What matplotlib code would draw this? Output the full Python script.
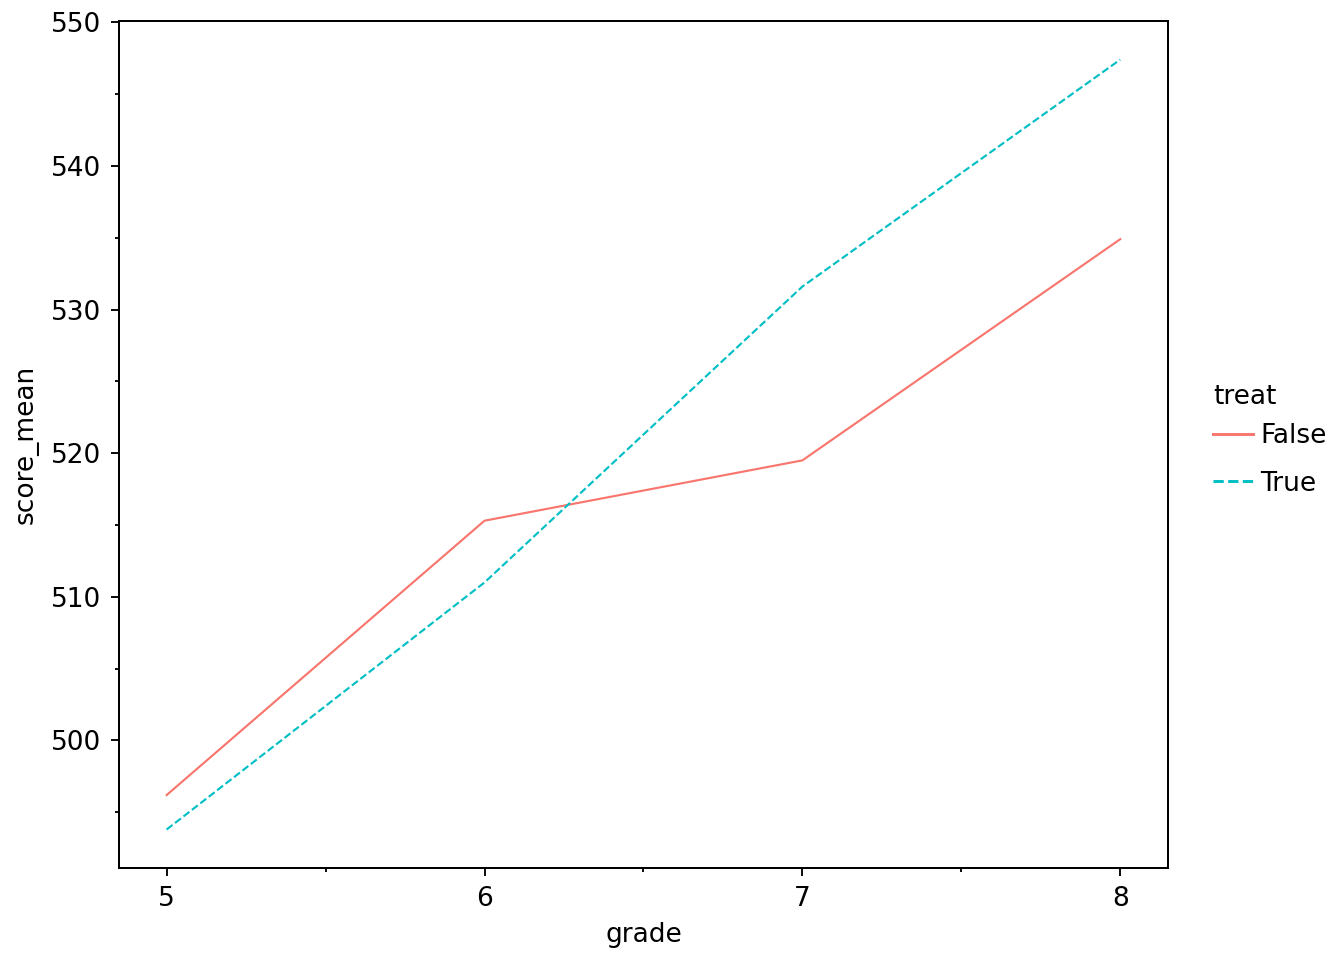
import matplotlib
matplotlib.use("Agg")
import matplotlib.pyplot as plt
from matplotlib.ticker import MultipleLocator

# values
grades = [5, 6, 7, 8]
score_false = [496.2, 515.3, 519.5, 534.9]
score_true = [493.8, 511.0, 531.6, 547.4]

RED = "#F8766D"
CYAN = "#00BFC4"
FS = 9.9

fig = plt.figure(figsize=(7, 5), dpi=192)
ax = fig.add_axes([0.0885, 0.0958, 0.7805, 0.8822])

ax.plot(grades, score_false, color=RED, lw=0.8, ls="-", label="False")
ax.plot(grades, score_true, color=CYAN, lw=0.8, ls=(0, (3.5, 1.5)), label="True")

# ggplot-style 5% expansion
lo = min(min(score_false), min(score_true))
hi = max(max(score_false), max(score_true))
pad = (hi - lo) * 0.05
ax.set_ylim(lo - pad, hi + pad)
ax.set_xlim(5 - 0.15, 8 + 0.15)

ax.xaxis.set_major_locator(MultipleLocator(1))
ax.xaxis.set_minor_locator(MultipleLocator(0.5))
ax.yaxis.set_major_locator(MultipleLocator(10))
ax.yaxis.set_minor_locator(MultipleLocator(5))

ax.tick_params(which="major", length=3, width=0.7, labelsize=FS, pad=3.6)
ax.tick_params(which="minor", length=1.6, width=0.7)
for s in ax.spines.values():
    s.set_linewidth(0.75)

ax.set_xlabel("grade", fontsize=FS, labelpad=4)
ax.set_ylabel("score_mean", fontsize=FS, labelpad=4.5)

leg = ax.legend(title="treat", loc="upper left", bbox_to_anchor=(0.8945, 0.611),
                bbox_transform=fig.transFigure, frameon=False, fontsize=FS,
                title_fontsize=FS, handlelength=1.52, handletextpad=0.28,
                labelspacing=0.82, borderaxespad=0)
leg._legend_box.align = "left"
leg._legend_box.sep = 4.9  # tighter gap between title and entries
for line in leg.get_lines():
    line.set_linewidth(1.1)

fig.savefig("out.png", dpi=192)
